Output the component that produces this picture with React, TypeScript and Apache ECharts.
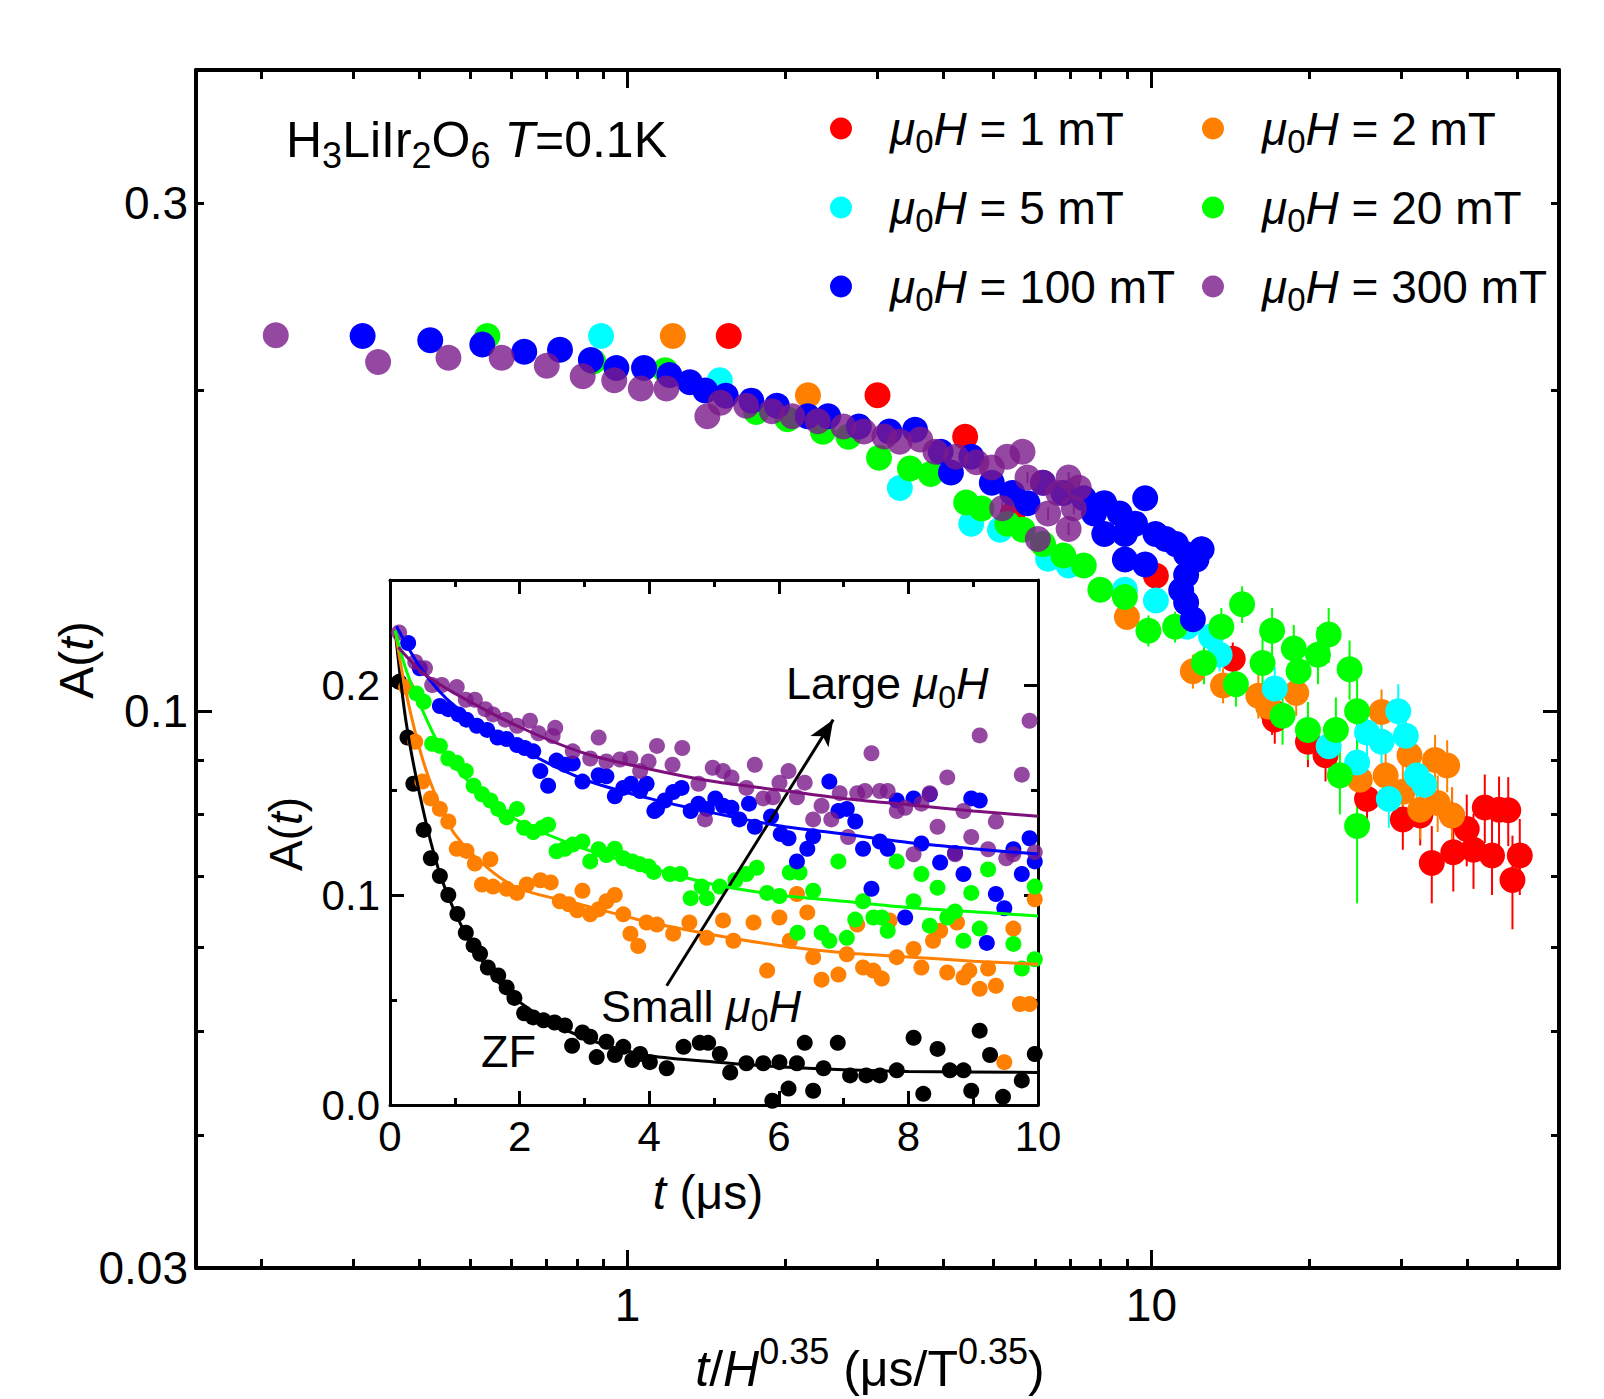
import React, { useEffect, useRef } from "react";
import * as echarts from "echarts";

const FONT = '"Liberation Sans", Arial, Helvetica, sans-serif';

// ---------------- Main panel: [t/H^0.35 (µs/T^0.35), A(t), error] ----------------
const fieldLabels = ["1 mT", "2 mT", "5 mT", "20 mT", "100 mT", "300 mT"];
const fieldColors = ["#FF0000", "#FF8000", "#00FFFF", "#00FF00", "#0000FF", "#7A1A8A"];
const fieldOpacity = [1, 1, 1, 1, 1, 0.8];

const main1mT = [
  [1.56, 0.225, 0], [3.0, 0.198, 0], [4.41, 0.181, 0], [5.43, 0.153, 0],
  [10.2, 0.134, 0.003], [14.3, 0.112, 0.004], [17.0, 0.1, 0.005], [17.2, 0.0982, 0.005],
  [19.9, 0.0936, 0.005], [21.5, 0.0909, 0.005], [25.8, 0.0827, 0.005], [30.2, 0.0791, 0.005],
  [32.6, 0.0798, 0.005], [34.3, 0.072, 0.006], [37.5, 0.0798, 0.005], [37.7, 0.0737, 0.006],
  [40.0, 0.0775, 0.006], [41.2, 0.0741, 0.006], [43.3, 0.0812, 0.006], [44.7, 0.0732, 0.006],
  [46.1, 0.0808, 0.006], [48.0, 0.0807, 0.006], [48.9, 0.0694, 0.007], [50.5, 0.0732, 0.006],
];
const main2mT = [
  [1.22, 0.225, 0], [2.21, 0.198, 0], [8.98, 0.1226, 0.003], [12.0, 0.109, 0.004],
  [13.7, 0.1057, 0.004], [16.0, 0.1034, 0.005], [16.7, 0.101, 0.005], [18.9, 0.104, 0.005],
  [25.0, 0.0862, 0.005], [27.5, 0.0998, 0.005], [28.0, 0.087, 0.005], [30.2, 0.084, 0.005],
  [31.1, 0.0909, 0.005], [32.6, 0.0808, 0.005], [34.8, 0.09, 0.005], [35.2, 0.082, 0.005],
  [36.7, 0.0889, 0.005], [37.5, 0.0798, 0.005],
];
const main5mT = [
  [0.89, 0.225, 0], [1.5, 0.2045, 0], [3.31, 0.162, 0], [4.53, 0.15, 0], [5.14, 0.148, 0],
  [6.35, 0.139, 0], [6.95, 0.137, 0], [8.9, 0.13, 0.002], [10.2, 0.127, 0.003],
  [11.7, 0.12, 0.003], [13.0, 0.1175, 0.004], [13.5, 0.113, 0.004], [17.2, 0.105, 0.005],
  [21.8, 0.0927, 0.005], [24.7, 0.0895, 0.005], [25.8, 0.0955, 0.005], [27.5, 0.0936, 0.005],
  [28.4, 0.0827, 0.005], [29.6, 0.1, 0.006], [30.6, 0.0948, 0.006], [32.1, 0.087, 0.006],
  [33.2, 0.0853, 0.006],
];
const main20mT = [
  [0.54, 0.225, 0], [0.86, 0.213, 0], [1.18, 0.209, 0], [1.76, 0.191, 0], [2.02, 0.188, 0],
  [2.36, 0.183, 0], [2.64, 0.181, 0], [3.02, 0.173, 0], [3.46, 0.169, 0], [3.79, 0.167, 0],
  [4.43, 0.157, 0], [4.74, 0.155, 0], [5.31, 0.15, 0], [5.68, 0.148, 0.002], [6.21, 0.1435, 0.002],
  [6.79, 0.14, 0.002], [7.43, 0.137, 0.003], [7.99, 0.13, 0.003], [8.9, 0.128, 0.003],
  [9.87, 0.119, 0.004], [11.1, 0.12, 0.004], [12.6, 0.111, 0.005], [13.6, 0.12, 0.005],
  [14.5, 0.106, 0.005], [14.9, 0.126, 0.005], [16.3, 0.111, 0.006], [17.0, 0.119, 0.006],
  [17.8, 0.099, 0.006], [18.7, 0.1145, 0.006], [19.1, 0.109, 0.006], [19.9, 0.096, 0.006],
  [20.8, 0.113, 0.007], [21.8, 0.118, 0.007], [22.5, 0.096, 0.007], [22.9, 0.087, 0.007],
  [23.9, 0.1095, 0.007], [24.7, 0.1, 0.008], [24.7, 0.078, 0.012],
];
const main100mT = [
  [0.312, 0.225, 0], [0.42, 0.223, 0], [0.528, 0.221, 0], [0.635, 0.2175, 0], [0.743, 0.2185, 0],
  [0.851, 0.2137, 0], [0.952, 0.21, 0], [1.075, 0.21, 0], [1.202, 0.2068, 0], [1.315, 0.2036, 0],
  [1.407, 0.2, 0], [1.54, 0.1978, 0], [1.723, 0.1957, 0], [1.928, 0.1935, 0], [2.207, 0.1892, 0],
  [2.415, 0.1892, 0], [2.764, 0.1851, 0], [3.162, 0.1831, 0], [3.539, 0.1838, 0], [3.961, 0.1752, 0],
  [4.143, 0.1675, 0], [4.53, 0.1733, 0], [4.959, 0.1639, 0], [5.426, 0.1603, 0], [5.8, 0.1568, 0],
  [6.21, 0.1639, 0], [6.79, 0.1603, 0.002], [7.43, 0.1585, 0.002], [7.77, 0.1533, 0.002],
  [8.13, 0.1568, 0.002], [8.13, 0.1467, 0.002], [8.7, 0.1533, 0.003], [8.9, 0.1467, 0.003],
  [8.9, 0.1388, 0.003], [9.31, 0.15, 0.003], [9.73, 0.1585, 0.003], [9.73, 0.1373, 0.003],
  [10.18, 0.1467, 0.003], [10.65, 0.1451, 0.003], [11.14, 0.1435, 0.003], [11.65, 0.1404, 0.004],
  [11.65, 0.1342, 0.004], [11.4, 0.1299, 0.004], [11.65, 0.1265, 0.004], [12.0, 0.122, 0.004],
  [12.19, 0.1388, 0.004], [12.47, 0.1419, 0.004],
];
const main300mT = [
  [0.213, 0.2254, 0], [0.334, 0.2128, 0], [0.455, 0.2147, 0], [0.575, 0.2147, 0], [0.701, 0.211, 0],
  [0.821, 0.2063, 0], [0.943, 0.2045, 0], [1.06, 0.2009, 0], [1.186, 0.2009, 0], [1.42, 0.1892, 0],
  [1.505, 0.1948, 0], [1.685, 0.1935, 0], [1.886, 0.1913, 0], [2.063, 0.1892, 0], [2.308, 0.1872, 0],
  [2.583, 0.1851, 0], [2.827, 0.1831, 0], [3.092, 0.1811, 0], [3.308, 0.1791, 0], [3.62, 0.1799, 0],
  [3.87, 0.1752, 0], [4.236, 0.1733, 0], [4.634, 0.1713, 0], [4.959, 0.1694, 0], [5.305, 0.1733, 0],
  [5.675, 0.1752, 0], [5.8, 0.1657, 0.002], [6.21, 0.1639, 0.002], [6.64, 0.1603, 0.002],
  [6.95, 0.1657, 0.002], [7.27, 0.1621, 0.002], [7.11, 0.1551, 0.002], [6.35, 0.1533, 0.002],
  [5.19, 0.1551, 0.002], [6.95, 0.1483, 0.002], [6.07, 0.1451, 0.002],
];
const mainData = [main1mT, main2mT, main5mT, main20mT, main100mT, main300mT];

// main axes
const X_MIN = 0.15, X_MAX = 60, Y_MIN = 0.03, Y_MAX = 0.4;
const xLabelValues = [1, 10];
const xLabelTexts = ["1", "10"];
const xMajorTicks = [1, 10];
const xMinorTicks = [0.2, 0.3, 0.4, 0.5, 0.6, 0.7, 0.8, 0.9, 2, 3, 4, 5, 6, 7, 8, 9, 20, 30, 40, 50];
const yLabelValues = [0.03, 0.1, 0.3];
const yLabelTexts = ["0.03", "0.1", "0.3"];
const yMajorTicks = [0.1];
const yMinorTicks = [0.04, 0.05, 0.06, 0.07, 0.08, 0.09, 0.2, 0.3];

// ---------------- Inset: [t (µs), A(t)] ----------------
const insetNames = ["ZF", "2 mT", "20 mT", "100 mT", "300 mT"];
const insetColors = ["#000000", "#FF8000", "#00FF00", "#0000FF", "#7A1A8A"];
const insetLineColors = ["#000000", "#FF8000", "#00FF00", "#0000FF", "#7D0F7D"];
const insetOpacity = [1, 1, 1, 1, 0.8];

const insetZF = [
  [0.14, 0.2015], [0.27, 0.175], [0.36, 0.153], [0.52, 0.131], [0.63, 0.1175], [0.77, 0.109],
  [0.9, 0.1], [1.04, 0.091], [1.17, 0.082], [1.29, 0.076], [1.39, 0.072], [1.51, 0.0655],
  [1.67, 0.0617], [1.8, 0.056], [1.92, 0.051], [2.07, 0.0437], [2.21, 0.0417], [2.37, 0.0403],
  [2.54, 0.0393], [2.7, 0.0379], [2.81, 0.0282], [2.97, 0.0345], [3.09, 0.0325], [3.19, 0.0228],
  [3.34, 0.0301], [3.47, 0.0238], [3.6, 0.0277], [3.74, 0.0214], [3.86, 0.0243], [4.01, 0.0204],
  [4.27, 0.0175], [4.53, 0.0277], [4.78, 0.0296], [4.91, 0.0296], [5.09, 0.0243], [5.25, 0.0155],
  [5.5, 0.0199], [5.76, 0.0199], [5.9, 0.002], [6.01, 0.0204], [6.15, 0.0078], [6.28, 0.0199],
  [6.4, 0.0296], [6.53, 0.0068], [6.69, 0.0175], [6.91, 0.0296], [7.1, 0.0141], [7.35, 0.0141],
  [7.56, 0.0141], [7.82, 0.0165], [8.08, 0.032], [8.23, 0.0053], [8.45, 0.0267], [8.64, 0.0165],
  [8.85, 0.0165], [8.97, 0.0068], [9.1, 0.0354], [9.26, 0.0238], [9.46, 0.0039], [9.75, 0.0117],
  [9.95, 0.0243],
];
const insetZFFit = [
  [0.08, 0.226], [0.25, 0.182], [0.5, 0.142], [0.75, 0.112], [1.0, 0.092], [1.25, 0.077],
  [1.5, 0.065], [1.75, 0.056], [2.0, 0.049], [2.5, 0.039], [3.0, 0.032], [3.5, 0.027],
  [4.0, 0.0235], [5.0, 0.0205], [6.0, 0.0182], [7.0, 0.0168], [8.0, 0.016], [10, 0.0155],
];
const inset2mT = [
  [0.25, 0.199], [0.39, 0.173], [0.5, 0.154], [0.63, 0.146], [0.77, 0.141], [0.9, 0.135],
  [1.03, 0.122], [1.18, 0.121], [1.31, 0.115], [1.42, 0.105], [1.55, 0.117], [1.59, 0.104],
  [1.8, 0.103], [1.96, 0.101], [2.11, 0.105], [2.32, 0.107], [2.48, 0.106], [2.62, 0.097],
  [2.76, 0.0956], [2.89, 0.0927], [2.97, 0.102], [3.09, 0.0908], [3.22, 0.0932], [3.34, 0.097],
  [3.47, 0.1], [3.6, 0.0908], [3.71, 0.0816], [3.83, 0.0757], [3.96, 0.0869], [4.12, 0.0859],
  [4.37, 0.0816], [4.62, 0.0869], [4.89, 0.0796], [5.14, 0.0879], [5.3, 0.0782], [5.61, 0.0869],
  [5.82, 0.064], [6.01, 0.0893], [6.17, 0.0782], [6.28, 0.1005], [6.44, 0.0917], [6.53, 0.0704],
  [6.66, 0.0597], [6.92, 0.0621], [7.05, 0.0718], [7.21, 0.0859], [7.3, 0.0655], [7.46, 0.064],
  [7.59, 0.0602], [7.71, 0.0879], [7.82, 0.0704], [8.08, 0.0743], [8.2, 0.0655], [8.38, 0.0782],
  [8.49, 0.083], [8.6, 0.0631], [8.75, 0.0869], [8.85, 0.0607], [8.94, 0.064], [9.1, 0.0553],
  [9.23, 0.065], [9.35, 0.0568], [9.48, 0.0204], [9.62, 0.084], [9.72, 0.0481], [9.87, 0.0481],
  [9.95, 0.098],
];
const inset2mTFit = [
  [0.08, 0.226], [0.25, 0.196], [0.5, 0.165], [0.75, 0.144], [1.0, 0.129], [1.5, 0.113],
  [2.0, 0.103], [3.0, 0.095], [4.0, 0.087], [5.0, 0.081], [6.0, 0.076], [7.0, 0.0725],
  [8.0, 0.0705], [9.0, 0.0685], [10, 0.067],
];
const inset20mT = [
  [0.41, 0.196], [0.52, 0.192], [0.65, 0.172], [0.77, 0.171], [0.9, 0.165], [1.03, 0.163],
  [1.17, 0.159], [1.29, 0.152], [1.42, 0.148], [1.55, 0.145], [1.67, 0.141], [1.8, 0.137],
  [1.96, 0.141], [2.07, 0.132], [2.21, 0.13], [2.35, 0.132], [2.44, 0.1335], [2.57, 0.1208],
  [2.7, 0.122], [2.82, 0.124], [2.97, 0.1255], [3.09, 0.116], [3.22, 0.1218], [3.34, 0.119],
  [3.47, 0.122], [3.6, 0.1175], [3.74, 0.116], [3.86, 0.1146], [3.99, 0.1136], [4.07, 0.111],
  [4.32, 0.11], [4.48, 0.11], [4.64, 0.0985], [4.81, 0.104], [4.89, 0.0985], [5.09, 0.104],
  [5.33, 0.107], [5.5, 0.11], [5.66, 0.113], [5.82, 0.101], [6.01, 0.0995], [6.17, 0.1107],
  [6.32, 0.1107], [6.29, 0.082], [6.53, 0.102], [6.66, 0.082], [6.78, 0.0782], [6.92, 0.116],
  [7.05, 0.0796], [7.18, 0.0883], [7.3, 0.097], [7.46, 0.0893], [7.59, 0.0893], [7.68, 0.083],
  [7.82, 0.116], [8.08, 0.097], [8.2, 0.11], [8.33, 0.0854], [8.45, 0.1035], [8.6, 0.0893],
  [8.72, 0.0922], [8.85, 0.0782], [8.97, 0.101], [9.1, 0.084], [9.23, 0.1122], [9.62, 0.0767],
  [9.75, 0.065], [9.95, 0.104], [9.95, 0.0694],
];
const inset20mTFit = [
  [0.08, 0.226], [0.25, 0.207], [0.5, 0.188], [0.75, 0.172], [1.0, 0.161], [1.5, 0.146],
  [2.0, 0.135], [3.0, 0.122], [4.0, 0.113], [5.0, 0.105], [6.0, 0.1], [7.0, 0.097],
  [8.0, 0.094], [9.0, 0.092], [10, 0.09],
];
const inset100mT = [
  [0.28, 0.22], [0.46, 0.208], [0.77, 0.19], [0.9, 0.1885], [1.06, 0.186], [1.18, 0.1835],
  [1.34, 0.1806], [1.5, 0.1786], [1.66, 0.175], [1.8, 0.1743], [1.96, 0.1714], [2.08, 0.17],
  [2.21, 0.1684], [2.32, 0.159], [2.44, 0.152], [2.57, 0.164], [2.7, 0.162], [2.82, 0.1626],
  [2.97, 0.154], [3.22, 0.157], [3.34, 0.1565], [3.47, 0.147], [3.6, 0.151], [3.72, 0.153],
  [3.86, 0.1495], [3.96, 0.153], [4.08, 0.14], [4.12, 0.141], [4.24, 0.145], [4.37, 0.149],
  [4.5, 0.151], [4.64, 0.14], [4.76, 0.1435], [4.89, 0.141], [5.02, 0.146], [5.14, 0.1425],
  [5.27, 0.1415], [5.39, 0.136], [5.54, 0.1435], [5.63, 0.1325], [5.88, 0.1374], [6.03, 0.129],
  [6.15, 0.127], [6.28, 0.116], [6.44, 0.122], [6.53, 0.128], [6.78, 0.154], [6.92, 0.14],
  [7.05, 0.141], [7.18, 0.135], [7.3, 0.122], [7.43, 0.103], [7.56, 0.1255], [7.68, 0.122],
  [7.82, 0.145], [7.95, 0.0893], [8.08, 0.146], [8.2, 0.1245], [8.33, 0.148], [8.49, 0.1155],
  [8.72, 0.12], [8.85, 0.11], [8.97, 0.146], [9.1, 0.145], [9.21, 0.0772], [9.35, 0.1005],
  [9.48, 0.0937], [9.62, 0.1218], [9.75, 0.11], [9.87, 0.127], [9.95, 0.116],
];
const inset100mTFit = [
  [0.1, 0.228], [0.5, 0.207], [1.0, 0.19], [2.0, 0.17], [3.0, 0.155], [4.0, 0.146],
  [5.0, 0.139], [6.0, 0.133], [7.0, 0.129], [8.0, 0.125], [9.0, 0.122], [10, 0.1195],
];
const inset300mT = [
  [0.14, 0.225], [0.39, 0.211], [0.54, 0.208], [0.65, 0.2], [0.8, 0.2], [1.03, 0.199],
  [1.17, 0.193], [1.31, 0.193], [1.47, 0.1885], [1.59, 0.186], [1.78, 0.1835], [1.96, 0.1806],
  [2.16, 0.183], [2.29, 0.177], [2.51, 0.1757], [2.55, 0.1796], [2.82, 0.1684], [3.09, 0.165],
  [3.22, 0.175], [3.34, 0.1636], [3.55, 0.1645], [3.71, 0.165], [3.86, 0.159], [3.99, 0.1636],
  [4.12, 0.171], [4.36, 0.162], [4.51, 0.17], [4.76, 0.153], [4.86, 0.136], [4.98, 0.1606],
  [5.14, 0.159], [5.27, 0.156], [5.5, 0.151], [5.63, 0.162], [5.76, 0.146], [5.91, 0.1465],
  [6.01, 0.1535], [6.15, 0.159], [6.28, 0.1465], [6.4, 0.1535], [6.53, 0.136], [6.66, 0.1425],
  [6.81, 0.136], [6.94, 0.1485], [7.07, 0.1276], [7.21, 0.1485], [7.33, 0.1495], [7.43, 0.1675],
  [7.56, 0.1495], [7.68, 0.1495], [7.82, 0.14], [7.95, 0.1415], [8.08, 0.1194], [8.2, 0.1435],
  [8.33, 0.1485], [8.45, 0.1325], [8.6, 0.156], [8.72, 0.1194], [8.85, 0.14], [8.97, 0.1276],
  [9.1, 0.176], [9.23, 0.1218], [9.35, 0.135], [9.51, 0.1175], [9.62, 0.1194], [9.75, 0.1573],
  [9.87, 0.183], [9.95, 0.1204],
];
const inset300mTFit = [
  [0.13, 0.218], [0.5, 0.206], [1.0, 0.196], [2.0, 0.18], [3.0, 0.1675], [4.0, 0.16],
  [5.0, 0.154], [6.0, 0.15], [7.0, 0.146], [8.0, 0.143], [9.0, 0.14], [10, 0.1375],
];
const insetData = [insetZF, inset2mT, inset20mT, inset100mT, inset300mT];
const insetFits = [insetZFFit, inset2mTFit, inset20mTFit, inset100mTFit, inset300mTFit];

const insetArrowFrom = [4.27, 0.0568];
const insetArrowTo = [6.84, 0.1835];

const T_MIN = 0, T_MAX = 10, A_MIN = 0, A_MAX = 0.25;
const insetXMajor = [0, 2, 4, 6, 8, 10];
const insetXMinor = [1, 3, 5, 7, 9];
const insetYMajor = [0, 0.1, 0.2];
const insetYLabelTexts = ["0.0", "0.1", "0.2"];
const insetYMinor = [0.05, 0.15, 0.25];

// ---------------- helpers ----------------
const lg = (v: number) => Math.log10(v);

function lookupLabel(values: number[], texts: string[], toAxis: (v: number) => number) {
  return (v: number) => {
    for (let i = 0; i < values.length; i++) {
      if (Math.abs(toAxis(values[i]) - v) < 1e-6) return texts[i];
    }
    return "";
  };
}

function makeAxis(o: any) {
  return {
    type: "value",
    gridIndex: o.grid,
    position: o.position,
    min: o.min,
    max: o.max,
    axisLine: { show: o.line, onZero: false, lineStyle: { color: "#000", width: o.lineWidth } },
    axisTick: {
      show: true,
      inside: true,
      length: o.tickLen,
      customValues: o.ticks,
      lineStyle: { color: "#000", width: o.tickWidth },
    },
    axisLabel: o.labels
      ? {
          show: true,
          customValues: o.labels,
          formatter: o.formatter,
          margin: o.margin,
          fontSize: o.fontSize,
          fontFamily: FONT,
          color: "#000",
        }
      : { show: false },
    splitLine: { show: false },
    minorTick: { show: false },
    minorSplitLine: { show: false },
  };
}

function richSet(size: number) {
  const sub = Math.round(size * 0.72);
  return {
    n: { fontSize: size, fontFamily: FONT, fill: "#000", color: "#000" },
    i: { fontSize: size, fontFamily: FONT, fontStyle: "italic", fill: "#000", color: "#000" },
    sub: { fontSize: sub, fontFamily: FONT, fill: "#000", color: "#000", padding: [Math.round(size * 0.6), 0, 0, 0] },
    sup: { fontSize: sub, fontFamily: FONT, fill: "#000", color: "#000", padding: [0, 0, Math.round(size * 0.7), 0] },
  };
}

function textEl(x: number, y: number, text: string, size: number, align: string, rotation = 0) {
  return {
    type: "text",
    x,
    y,
    rotation,
    silent: true,
    style: {
      text,
      rich: richSet(size),
      fontSize: size,
      fontFamily: FONT,
      fill: "#000",
      align,
      verticalAlign: "middle",
      textAlign: align,
      textVerticalAlign: "middle",
    },
  };
}

function buildOption() {
  const mainXFmt = lookupLabel(xLabelValues, xLabelTexts, lg);
  const mainYFmt = lookupLabel(yLabelValues, yLabelTexts, lg);
  const insetYFmt = lookupLabel(insetYMajor, insetYLabelTexts, (v) => v);

  const mx = { grid: 0, min: lg(X_MIN), max: lg(X_MAX), lineWidth: 4, tickWidth: 3 };
  const my = { grid: 0, min: lg(Y_MIN), max: lg(Y_MAX), lineWidth: 4, tickWidth: 3 };
  const ix = { grid: 1, min: T_MIN, max: T_MAX, lineWidth: 3, tickWidth: 3 };
  const iy = { grid: 1, min: A_MIN, max: A_MAX, lineWidth: 3, tickWidth: 3 };

  const xAxis = [
    makeAxis({ ...mx, position: "bottom", line: true, tickLen: 18, ticks: xMajorTicks.map(lg), labels: xLabelValues.map(lg), formatter: mainXFmt, margin: 14, fontSize: 46 }),
    makeAxis({ ...mx, position: "bottom", line: false, tickLen: 9, ticks: xMinorTicks.map(lg) }),
    makeAxis({ ...mx, position: "top", line: true, tickLen: 18, ticks: xMajorTicks.map(lg) }),
    makeAxis({ ...mx, position: "top", line: false, tickLen: 9, ticks: xMinorTicks.map(lg) }),
    makeAxis({ ...ix, position: "bottom", line: true, tickLen: 14, ticks: insetXMajor, labels: insetXMajor, formatter: (v: number) => String(Math.round(v)), margin: 10, fontSize: 42 }),
    makeAxis({ ...ix, position: "bottom", line: false, tickLen: 7, ticks: insetXMinor }),
    makeAxis({ ...ix, position: "top", line: true, tickLen: 14, ticks: insetXMajor }),
    makeAxis({ ...ix, position: "top", line: false, tickLen: 7, ticks: insetXMinor }),
  ];
  const yAxis = [
    makeAxis({ ...my, position: "left", line: true, tickLen: 16, ticks: yMajorTicks.map(lg), labels: yLabelValues.map(lg), formatter: mainYFmt, margin: 8, fontSize: 46 }),
    makeAxis({ ...my, position: "left", line: false, tickLen: 8, ticks: yMinorTicks.map(lg) }),
    makeAxis({ ...my, position: "right", line: true, tickLen: 16, ticks: yMajorTicks.map(lg) }),
    makeAxis({ ...my, position: "right", line: false, tickLen: 8, ticks: yMinorTicks.map(lg) }),
    makeAxis({ ...iy, position: "left", line: true, tickLen: 14, ticks: insetYMajor, labels: insetYMajor, formatter: insetYFmt, margin: 10, fontSize: 42 }),
    makeAxis({ ...iy, position: "left", line: false, tickLen: 7, ticks: insetYMinor }),
    makeAxis({ ...iy, position: "right", line: true, tickLen: 14, ticks: insetYMajor }),
    makeAxis({ ...iy, position: "right", line: false, tickLen: 7, ticks: insetYMinor }),
  ];

  const seriesNames = fieldLabels.map((f) => "μ0H = " + f);
  const series: any[] = [];

  mainData.forEach((arr, k) => {
    const color = fieldColors[k];
    series.push({
      type: "custom",
      name: seriesNames[k] + " error",
      xAxisIndex: 0,
      yAxisIndex: 0,
      silent: true,
      data: arr.filter((d) => d[2] > 0).map((d) => [lg(d[0]), lg(d[1] - d[2]), lg(d[1] + d[2])]),
      encode: { x: 0, y: [1, 2] },
      renderItem: (params: any, api: any) => {
        const p1 = api.coord([api.value(0), api.value(1)]);
        const p2 = api.coord([api.value(0), api.value(2)]);
        return {
          type: "line",
          shape: { x1: p1[0], y1: p1[1], x2: p2[0], y2: p2[1] },
          style: { stroke: color, lineWidth: 2, opacity: fieldOpacity[k] },
        };
      },
      z: 2,
    });
    series.push({
      type: "scatter",
      name: seriesNames[k],
      xAxisIndex: 0,
      yAxisIndex: 0,
      symbol: "circle",
      symbolSize: 26,
      data: arr.map((d) => [lg(d[0]), lg(d[1])]),
      itemStyle: { color, opacity: fieldOpacity[k] },
      z: 2,
    });
  });

  insetData.forEach((arr, k) => {
    series.push({
      type: "scatter",
      name: "inset " + insetNames[k],
      xAxisIndex: 4,
      yAxisIndex: 4,
      symbol: "circle",
      symbolSize: 16,
      data: arr,
      itemStyle: { color: insetColors[k], opacity: insetOpacity[k] },
      z: 4,
    });
    const fitSeries: any = {
      type: "line",
      name: "inset fit " + insetNames[k],
      xAxisIndex: 4,
      yAxisIndex: 4,
      data: insetFits[k],
      smooth: 0.3,
      showSymbol: false,
      symbol: "none",
      lineStyle: { color: insetLineColors[k], width: 3 },
      z: 5,
    };
    if (k === 0) {
      fitSeries.markLine = {
        silent: true,
        symbol: ["none", "arrow"],
        symbolSize: [16, 26],
        label: { show: false },
        lineStyle: { color: "#000", width: 3, type: "solid" },
        data: [[{ coord: insetArrowFrom }, { coord: insetArrowTo }]],
      };
    }
    series.push(fitSeries);
  });

  const legendRich = {
    mu: { fontSize: 46, fontFamily: FONT, fontStyle: "italic", color: "#000", padding: [0, 0, 0, 33], lineHeight: 50 },
    i: { fontSize: 46, fontFamily: FONT, fontStyle: "italic", color: "#000", lineHeight: 50 },
    sub: { fontSize: 33, fontFamily: FONT, color: "#000", padding: [26, 0, 0, 0], lineHeight: 33 },
    n: { fontSize: 46, fontFamily: FONT, color: "#000", lineHeight: 50 },
  };
  const legendFmt = (name: string) => {
    const rest = name.split("= ")[1];
    return "{mu|μ}{sub|0}{i|H}{n| = " + rest + "}";
  };
  const legendBase = {
    orient: "vertical",
    top: 99,
    padding: 0,
    itemGap: 20,
    icon: "circle",
    itemWidth: 22,
    itemHeight: 22,
    selectedMode: false,
    formatter: legendFmt,
    textStyle: { fontSize: 46, fontFamily: FONT, color: "#000", rich: legendRich },
  };

  return {
    animation: false,
    backgroundColor: "#fff",
    grid: [
      { left: 196, top: 70, width: 1363, height: 1198, containLabel: false },
      { left: 390, top: 580, width: 648, height: 525, containLabel: false, show: true, backgroundColor: "#fff", borderWidth: 0 },
    ],
    xAxis,
    yAxis,
    legend: [
      { ...legendBase, left: 830, data: [seriesNames[0], seriesNames[2], seriesNames[4]] },
      { ...legendBase, left: 1202, data: [seriesNames[1], seriesNames[3], seriesNames[5]] },
    ],
    series,
    graphic: [
      textEl(286, 140, "{n|H}{sub|3}{n|LiIr}{sub|2}{n|O}{sub|6}{n| }{i|T}{n|=0.1K}", 50, "left"),
      textEl(76, 660, "{n|A(}{i|t}{n|)}", 48, "center", Math.PI / 2),
      textEl(870, 1369, "{i|t}{n|/}{i|H}{sup|0.35}{n| (μs/T}{sup|0.35}{n|)}", 50, "center"),
      textEl(286, 834, "{n|A(}{i|t}{n|)}", 46, "center", Math.PI / 2),
      textEl(708, 1192, "{i|t}{n| (μs)}", 48, "center"),
      textEl(786, 683, "{n|Large }{i|μ}{sub|0}{i|H}", 45, "left"),
      textEl(601, 1006, "{n|Small }{i|μ}{sub|0}{i|H}", 45, "left"),
      textEl(481, 1051, "{n|ZF}", 45, "left"),
    ],
  };
}

export default function App() {
  const ref = useRef<HTMLDivElement>(null);
  useEffect(() => {
    if (!ref.current) return;
    const chart = echarts.init(ref.current, undefined, { renderer: "svg" });
    chart.setOption(buildOption() as any);
    return () => chart.dispose();
  }, []);
  return (
    <div
      ref={ref}
      style={{ position: "fixed", left: 0, top: 0, width: 1604, height: 1399, background: "#fff" }}
    />
  );
}
